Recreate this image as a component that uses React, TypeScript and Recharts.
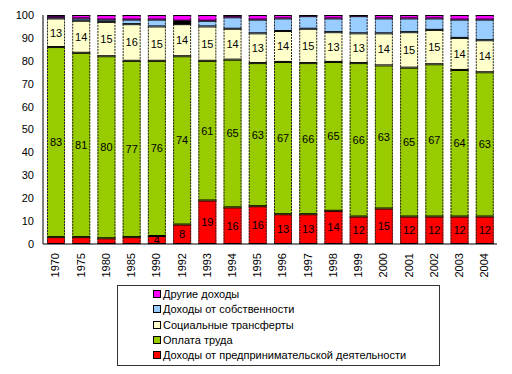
import React from 'react'
import { BarChart, Bar, XAxis, YAxis, LabelList, Cell } from 'recharts'

const years = ['1970', '1975', '1980', '1985', '1990', '1992', '1993', '1994', '1995', '1996', '1997', '1998', '1999', '2000', '2001', '2002', '2003', '2004']

// доли, %
const predprin = [3, 3, 2.5, 3, 3.5, 8.5, 19, 16, 16.5, 13, 13, 14.5, 12, 15.5, 12, 12, 12, 12]
const oplata = [83, 80.5, 79.5, 77, 76.5, 73.5, 61, 64.5, 62.5, 66.5, 66, 65, 67, 62.5, 65, 66.5, 64, 63]
const socTransf = [12.5, 14, 15, 16, 15, 14, 15, 13.5, 13, 13.5, 15, 13, 13, 14, 15.5, 15, 14, 14]
const sobstv = [0.5, 1, 1, 2, 3, 1.5, 2.5, 5, 6, 5.5, 5.5, 6, 7.5, 6.5, 6, 5, 8, 9]
const drugie = [1, 1.5, 2, 2, 2, 2.5, 2.5, 1, 2, 1.5, 0.5, 1.5, 0.5, 1.5, 1.5, 1.5, 2, 2]

// подписи на столбцах
const predprinLabels = [null, null, null, null, 4, 8, 19, 16, 16, 13, 13, 14, 12, 15, 12, 12, 12, 12]
const oplataLabels = [83, 81, 80, 77, 76, 74, 61, 65, 63, 67, 66, 65, 66, 63, 65, 67, 64, 63]
const socLabels = [13, 14, 15, 16, 15, 14, 15, 14, 13, 14, 15, 13, 13, 14, 15, 15, 14, 14]

const yTicks = [0, 10, 20, 30, 40, 50, 60, 70, 80, 90, 100]

const SERIES = [
  { key: 'predprin', name: 'Доходы от предпринимательской деятельности', color: '#ff0000' },
  { key: 'oplata', name: 'Оплата труда', color: '#99cc00' },
  { key: 'soc', name: 'Социальные трансферты', color: '#ffffcc' },
  { key: 'sobstv', name: 'Доходы от собственности', color: '#99ccff' },
  { key: 'drugie', name: 'Другие доходы', color: '#ff00ff' },
]

const data = years.map((y, i) => ({
  year: y,
  predprin: predprin[i],
  oplata: oplata[i],
  soc: socTransf[i],
  sobstv: sobstv[i],
  drugie: drugie[i],
  predprinL: predprinLabels[i],
  oplataL: oplataLabels[i],
  socL: socLabels[i],
}))

const FONT = 'Arial, "Liberation Sans", sans-serif'

function Segment(props: any) {
  const { x, y, width, height, fill } = props
  if (!height || height <= 0) return null
  return (
    <g>
      <rect x={x} y={y} width={width} height={height} fill={fill} />
      <line x1={x} x2={x + width} y1={y + 0.5} y2={y + 0.5} stroke="#000" />
      <line x1={x} x2={x + width} y1={y + height - 0.5} y2={y + height - 0.5} stroke="#000" />
      <line x1={x + 0.5} x2={x + 0.5} y1={y} y2={y + height} stroke="#222" strokeDasharray="2 1" />
      <line x1={x + width - 0.5} x2={x + width - 0.5} y1={y} y2={y + height} stroke="#222" strokeDasharray="2 1" />
    </g>
  )
}

function YearTick(props: any) {
  const { x, y, payload } = props
  return (
    <text
      x={x}
      y={y + 1}
      dy="0.35em"
      transform={`rotate(-90 ${x} ${y + 1})`}
      textAnchor="end"
      fontSize={11}
      fontFamily={FONT}
      fill="#000"
    >
      {payload.value}
    </text>
  )
}

const labelStyle = { fontSize: 11, fontFamily: FONT, fill: '#000' }

export default function App() {
  const legendItems = [...SERIES].reverse()
  return (
    <div style={{ position: 'fixed', left: 0, top: 0, width: 512, height: 374, background: '#fff' }}>
      <BarChart
        width={512}
        height={374}
        data={data}
        margin={{ top: 15, right: 15, bottom: 90, left: 0 }}
        barSize={18}
      >
        <XAxis
          dataKey="year"
          axisLine={{ stroke: '#000' }}
          tickLine={false}
          tick={<YearTick />}
          interval={0}
          height={40}
        />
        <YAxis
          width={43}
          domain={[0, 100]}
          ticks={yTicks}
          axisLine={{ stroke: '#000' }}
          tickLine={false}
          tickMargin={3}
          tick={{ fontSize: 11, fontFamily: FONT, fill: '#000' }}
          interval={0}
        />
        <Bar dataKey="predprin" stackId="a" fill="#ff0000" shape={<Segment />} isAnimationActive={false}>
          <LabelList dataKey="predprinL" position="center" style={labelStyle} />
        </Bar>
        <Bar dataKey="oplata" stackId="a" fill="#99cc00" shape={<Segment />} isAnimationActive={false}>
          <LabelList dataKey="oplataL" position="center" style={labelStyle} />
        </Bar>
        <Bar dataKey="soc" stackId="a" fill="#ffffcc" shape={<Segment />} isAnimationActive={false}>
          <LabelList dataKey="socL" position="center" style={labelStyle} />
        </Bar>
        <Bar dataKey="sobstv" stackId="a" fill="#99ccff" shape={<Segment />} isAnimationActive={false}>
          {data.map((d, i) => (
            <Cell key={i} fill={d.year === '1992' ? '#000' : '#99ccff'} />
          ))}
        </Bar>
        <Bar dataKey="drugie" stackId="a" fill="#ff00ff" shape={<Segment />} isAnimationActive={false} />
      </BarChart>
      {/* Легенда */}
      <div
        style={{
          position: 'absolute',
          left: 117,
          top: 285,
          width: 321,
          height: 79,
          border: '1px solid #333',
          boxSizing: 'content-box',
          fontFamily: FONT,
          fontSize: 11,
        }}
      >
        {legendItems.map((s, i) => (
          <div
            key={s.key}
            style={{
              position: 'absolute',
              left: 35,
              top: 1 + i * 15.3,
              height: 14,
              display: 'flex',
              alignItems: 'center',
              whiteSpace: 'nowrap',
            }}
          >
            <div
              style={{
                width: 6,
                height: 6,
                border: '1px solid #000',
                background: s.color,
                marginRight: 2,
              }}
            />
            <span>{s.name}</span>
          </div>
        ))}
      </div>
    </div>
  )
}
